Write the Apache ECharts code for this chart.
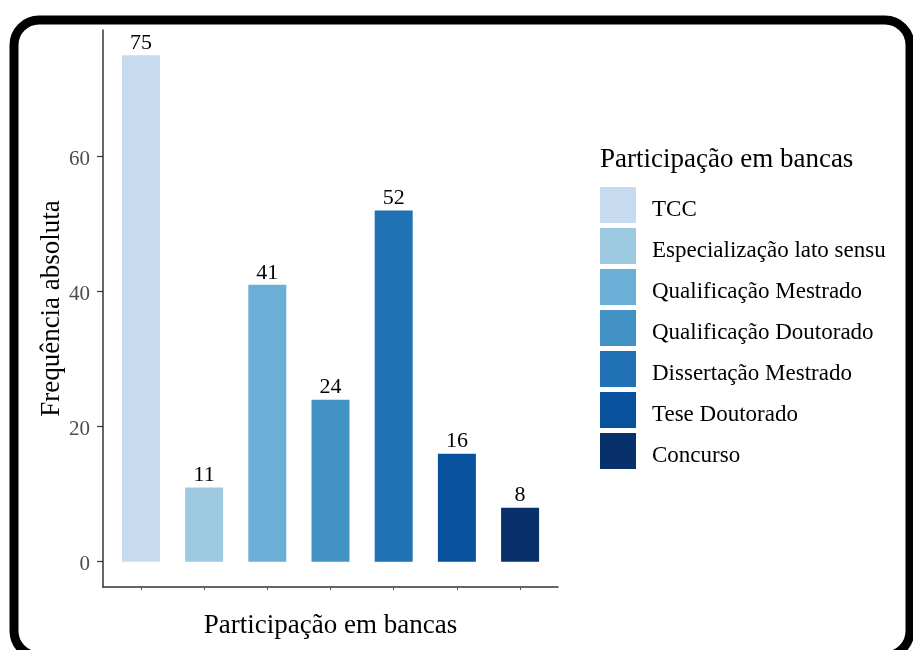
<!DOCTYPE html>
<html>
<head>
<meta charset="utf-8">
<script src="https://cdn.jsdelivr.net/npm/echarts@6/dist/echarts.min.js"></script>
<style>
  html, body { margin: 0; padding: 0; background: #fff; }
  #chart { width: 913px; height: 650px; }
</style>
</head>
<body>
<div id="chart"></div>
<script>
// Participação em bancas: frequência absoluta por tipo de banca
const categories = [
  'TCC',
  'Especialização lato sensu',
  'Qualificação Mestrado',
  'Qualificação Doutorado',
  'Dissertação Mestrado',
  'Tese Doutorado',
  'Concurso'
];
const counts = [75, 11, 41, 24, 52, 16, 8];
const colors = ['#C6DBEF', '#9ECAE1', '#6BAED6', '#4292C6', '#2171B5', '#08519C', '#08306B'];
const yTicks = [0, 20, 40, 60];
const positions = categories.map((c, i) => i + 1);

const SERIF = '"Liberation Serif", "DejaVu Serif", serif';

const chart = echarts.init(document.getElementById('chart'), null, { renderer: 'canvas' });

const series = categories.map((name, i) => ({
  type: 'bar',
  name: name,
  data: [[positions[i], counts[i]]],
  barWidth: 38,
  barGap: '-100%',
  itemStyle: { color: colors[i] },
  label: {
    show: true,
    position: 'top',
    distance: 1,
    formatter: p => p.value[1],
    fontFamily: SERIF,
    fontSize: 22,
    color: '#000'
  }
}));

chart.setOption({
  animation: false,
  backgroundColor: '#fff',
  grid: { left: 103, top: 30, right: 355, bottom: 63, containLabel: false },
  xAxis: {
    type: 'value',
    min: 0.4,
    max: 7.6,
    name: 'Participação em bancas',
    nameLocation: 'middle',
    nameGap: 25,
    nameTextStyle: { fontFamily: SERIF, fontSize: 27, color: '#000' },
    axisLine: { show: true, onZero: false, lineStyle: { color: '#333', width: 1.5 } },
    axisTick: { show: true, length: 3, customValues: positions, lineStyle: { color: '#555', width: 1 } },
    axisLabel: { show: false },
    splitLine: { show: false }
  },
  yAxis: {
    type: 'value',
    min: -3.75,
    max: 78.75,
    name: 'Frequência absoluta',
    nameLocation: 'middle',
    nameGap: 38,
    nameRotate: 90,
    nameTextStyle: { fontFamily: SERIF, fontSize: 27, color: '#000' },
    axisLine: { show: true, onZero: false, lineStyle: { color: '#333', width: 1.5 } },
    axisTick: { show: true, length: 6, customValues: yTicks, lineStyle: { color: '#333', width: 1.2 } },
    axisLabel: {
      show: true,
      customValues: yTicks,
      margin: 13,
      formatter: v => '{t|' + v + '}',
      rich: {
        t: { fontFamily: SERIF, fontSize: 21, color: '#4D4D4D', padding: [6, 0, 0, 0] }
      },
      fontFamily: SERIF,
      fontSize: 21,
      color: '#4D4D4D'
    },
    splitLine: { show: false }
  },
  legend: {
    orient: 'vertical',
    left: 600,
    top: 187,
    padding: 0,
    icon: 'rect',
    itemWidth: 36,
    itemHeight: 36,
    itemGap: 5,
    data: categories,
    formatter: name => '{t|' + name + '}',
    textStyle: {
      fontFamily: SERIF,
      fontSize: 23,
      color: '#000',
      rich: {
        t: { fontFamily: SERIF, fontSize: 23, color: '#000', padding: [10, 0, 0, 11] }
      }
    }
  },
  graphic: [
    {
      type: 'rect',
      z: -1,
      silent: true,
      shape: { x: 14, y: 20, width: 896, height: 636, r: 25 },
      style: { fill: null, stroke: '#000', lineWidth: 9 }
    },
    {
      type: 'text',
      left: 600,
      top: 146,
      silent: true,
      style: {
        text: 'Participação em bancas',
        font: '27px ' + SERIF,
        fill: '#000'
      }
    }
  ],
  series: series
});
</script>
</body>
</html>
